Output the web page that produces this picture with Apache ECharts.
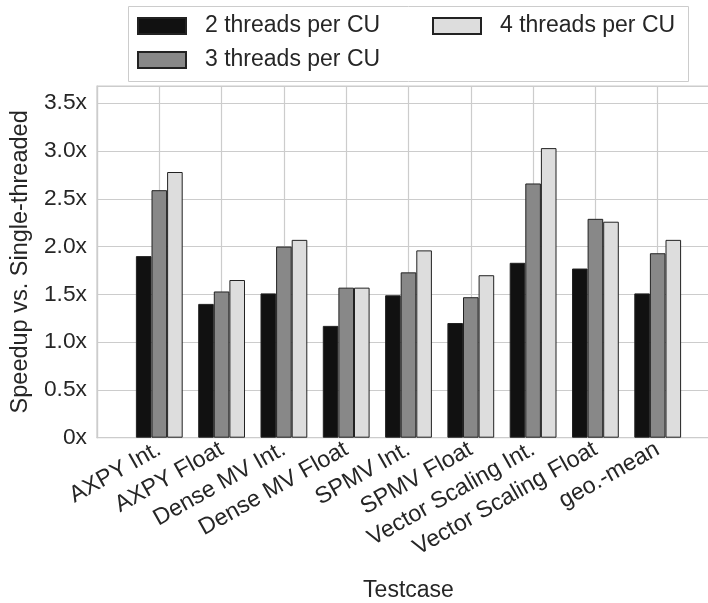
<!DOCTYPE html>
<html>
<head>
<meta charset="utf-8">
<script src="https://cdn.jsdelivr.net/npm/echarts@6/dist/echarts.min.js"></script>
<style>html,body{margin:0;padding:0;background:#fff;}#c{width:708px;height:603px;}</style>
</head>
<body>
<div id="c"></div>
<script>
const categories = ['AXPY Int.', 'AXPY Float', 'Dense MV Int.', 'Dense MV Float', 'SPMV Int.', 'SPMV Float', 'Vector Scaling Int.', 'Vector Scaling Float', 'geo.-mean'];
const seriesNames = ['2 threads per CU', '3 threads per CU', '4 threads per CU'];
const threads2 = [1.90, 1.40, 1.51, 1.17, 1.49, 1.20, 1.83, 1.77, 1.51];
const threads3 = [2.59, 1.53, 2.00, 1.57, 1.73, 1.47, 2.66, 2.29, 1.93];
const threads4 = [2.78, 1.65, 2.07, 1.57, 1.96, 1.70, 3.03, 2.26, 2.07];
const yTicks = [0, 0.5, 1.0, 1.5, 2.0, 2.5, 3.0, 3.5];

const FONT = 'Liberation Sans';
const TXT = '#262626';
const colors = ['#111111', '#888888', '#dddddd'];
const xCats = [''].concat(categories, ['']);
function pad(arr) { return [null].concat(arr, [null]); }
const values = [threads2, threads3, threads4];

const chart = echarts.init(document.getElementById('c'), null, {renderer: 'canvas'});
chart.setOption({
  animation: false,
  backgroundColor: '#ffffff',
  textStyle: {fontFamily: FONT},
  grid: {left: 97, top: 86, height: 351.7, width: 623, containLabel: false, outerBoundsMode: 'none',
    show: true, borderColor: '#cccccc', borderWidth: 1.2},
  graphic: [{
    type: 'rect', z: 0, shape: {x: 128.5, y: 6.5, width: 560, height: 75},
    style: {fill: '#ffffff', stroke: '#cccccc', lineWidth: 1}
  }],
  legend: [{
    data: [seriesNames[0], seriesNames[1]], orient: 'vertical', left: 137, top: 14,
    icon: 'rect', itemWidth: 48, itemHeight: 16, itemGap: 10, padding: 0, z: 5,
    textStyle: {fontFamily: FONT, fontSize: 23, color: TXT, lineHeight: 24, padding: [0, 0, 0, 14]}
  }, {
    data: [seriesNames[2]], orient: 'vertical', left: 432, top: 14,
    icon: 'rect', itemWidth: 48, itemHeight: 16, itemGap: 10, padding: 0, z: 5,
    textStyle: {fontFamily: FONT, fontSize: 23, color: TXT, lineHeight: 24, padding: [0, 0, 0, 14]}
  }],
  xAxis: {
    type: 'category', data: xCats, boundaryGap: false,
    name: 'Testcase', nameLocation: 'middle', nameGap: 141,
    nameTextStyle: {fontFamily: FONT, fontSize: 23, color: TXT},
    axisLine: {show: true, lineStyle: {color: '#cccccc', width: 1.2}},
    axisTick: {show: false},
    axisLabel: {rotate: 29.5, interval: 0, margin: 10, fontFamily: FONT, fontSize: 23.3, color: TXT},
    splitLine: {show: true, lineStyle: {color: '#cccccc', width: 1.2}}
  },
  yAxis: {
    type: 'value', min: 0, max: 3.68, interval: 0.5,
    name: 'Speedup vs. Single-threaded', nameLocation: 'middle', nameGap: 61, nameRotate: 90,
    nameTextStyle: {fontFamily: FONT, fontSize: 23.5, color: TXT},
    axisLine: {show: true, lineStyle: {color: '#cccccc', width: 1.2}},
    axisTick: {show: false},
    axisLabel: {margin: 10, fontFamily: FONT, fontSize: 22.8, color: TXT,
      formatter: function (v) {
        const t = yTicks.find(function (k) { return Math.abs(k - v) < 1e-6; });
        if (t === undefined) return '';
        return t === 0 ? '0x' : t.toFixed(1) + 'x';
      }},
    splitLine: {show: true, lineStyle: {color: '#cccccc', width: 1.2}}
  },
  series: values.map(function (vals, i) {
    return {
      name: seriesNames[i], type: 'bar', data: pad(vals), barWidth: 15.6, barGap: '0%',
      itemStyle: {color: colors[i], borderColor: '#222222', borderWidth: 1}
    };
  })
});
</script>
</body>
</html>
